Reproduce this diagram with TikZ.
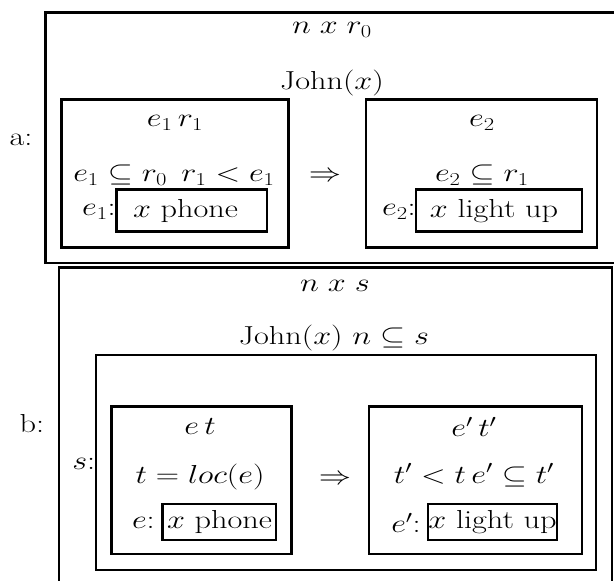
\documentclass[tikz,border=0pt]{standalone}
\usepackage{fix-cm}
\usepackage{graphicx}
\newcommand{\hs}[1]{\scalebox{1.24}[1]{#1}}
\tikzset{
  txt/.style={inner sep=0pt, font=\fontsize{26}{31}\selectfont},
  boxline/.style={draw, line width=2.5pt},
  thinbox/.style={draw, line width=2.2pt},
}
\begin{document}
\begin{tikzpicture}[x=1pt,y=-1pt]
\useasboundingbox (0,0) rectangle (614,581);
% ---------- a ----------
\draw[thinbox] (640,12.5) -- (45.5,12.5) -- (45.5,263) -- (640,263);
\node[txt] (a) at (21,140) {\hs{a:}};
\node[txt] (anxr) at (332,30) {\hs{$n\;x\;r_0$}};
\node[txt] (ajohn) at (332,83) {\hs{John$(x)$}};
\draw[boxline] (61.5,99.5) rectangle (288.5,247.5);
\node[txt] (ae1r1) at (175,123) {\hs{$e_1\,r_1$}};
\node[txt] (acond1) at (174,175) {\hs{$e_1 \subseteq r_0\;\, r_1 < e_1$}};
\draw[boxline] (116.5,189.5) rectangle (267,231.5);
\node[txt] (aphone) at (185.5,211) {\hs{$x$ phone}};
\node[txt,anchor=east] (ae1lab) at (116,212) {\hs{$e_1$:}};
\node[txt] (aimpl) at (325,177) {\hs{$\Rightarrow$}};
\draw[boxline] (366,99.5) rectangle (597,247.5);
\node[txt] (ae2) at (482,123) {\hs{$e_2$}};
\node[txt] (acond2) at (482,175) {\hs{$e_2 \subseteq r_1$}};
\draw[boxline] (416,189.5) rectangle (582,231.5);
\node[txt] (alight) at (494,211) {\hs{$x$ light up}};
\node[txt,anchor=east] (ae2lab) at (416,212) {\hs{$e_2$:}};
% ---------- b ----------
\draw[boxline] (59,600) -- (59,267.5) -- (612,267.5) -- (612,600);
\node[txt] (b) at (32,424) {\hs{b:}};
\node[txt] (bnxs) at (335,286) {\hs{$n\;x\;s$}};
\node[txt] (bjohn) at (334,338) {\hs{John$(x)$ $n \subseteq s$}};
\draw[thinbox] (96,355) rectangle (596,570);
\node[txt,anchor=east] (bs) at (95.5,464) {\hs{$s$:}};
\draw[boxline] (111.5,406.5) rectangle (291.5,554);
\node[txt] (bet) at (200,427) {\hs{$e\,t$}};
\node[txt] (bloc) at (200,477) {\hs{$t = loc(e)$}};
\draw[boxline] (162.5,504) rectangle (276,540);
\node[txt] (bphone) at (219.5,522) {\hs{$x$ phone}};
\node[txt,anchor=east] (belab) at (155,523) {\hs{$e$:}};
\node[txt] (bimpl) at (335,480) {\hs{$\Rightarrow$}};
\draw[boxline] (369,406.5) rectangle (582,554);
\node[txt] (betp) at (474,427) {\hs{$e'\,t'$}};
\node[txt] (bcond) at (474,475) {\hs{$t' < t\, e' \subseteq t'$}};
\draw[boxline] (428,504) rectangle (557,540);
\node[txt] (blight) at (492.5,522) {\hs{$x$ light up}};
\node[txt,anchor=east] (belabp) at (421,523) {\hs{$e'$:}};
\end{tikzpicture}
\end{document}
